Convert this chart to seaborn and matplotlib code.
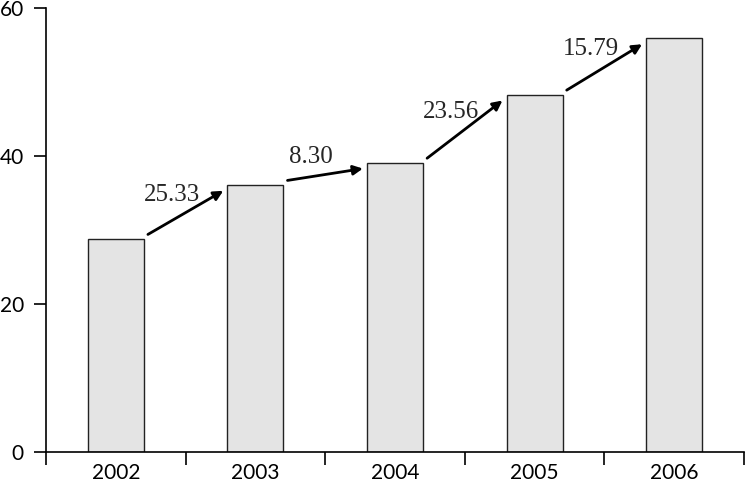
import numpy as np
import pandas as pd
import matplotlib
matplotlib.use('Agg')
import matplotlib.pyplot as plt
import seaborn as sns
from matplotlib.ticker import FixedLocator

# values
years = ['2002', '2003', '2004', '2005', '2006']
values = [28.8, 36.1, 39.1, 48.3, 55.9]
growth_labels = ['25.33', '8.30', '23.56', '15.79']

df = pd.DataFrame({'year': years, 'value': values})

sns.set_style('white')
plt.rcParams['font.family'] = ['Lato', 'DejaVu Sans']

fig = plt.figure(figsize=(7.45, 4.84), dpi=100)
ax = fig.add_axes([46 / 745, 32 / 484, 698 / 745, 444 / 484])

sns.barplot(data=df, x='year', y='value', color='#e4e4e4', saturation=1,
            edgecolor='#222222', linewidth=1.0, width=0.4, ax=ax)

ax.set_xlim(-0.5, 4.5)
ax.set_ylim(0, 60)
ax.set_yticks([0, 20, 40, 60])
ax.set_xlabel('')
ax.set_ylabel('')

for s in ['top', 'right']:
    ax.spines[s].set_visible(False)
for s in ['left', 'bottom']:
    ax.spines[s].set_linewidth(1.2)
    ax.spines[s].set_color('black')

# category boundaries get tick marks, labels sit at the centres
ax.xaxis.set_minor_locator(FixedLocator(np.arange(-0.5, 5, 1.0)))
ax.tick_params(axis='x', which='major', length=0, pad=8, labelsize=15,
               labelcolor='black')
ax.tick_params(axis='x', which='minor', direction='out', length=9,
               width=1.2, color='black', bottom=True)
ax.tick_params(axis='y', which='major', direction='out', length=9,
               width=1.2, color='black', left=True, pad=7, labelsize=15,
               labelcolor='black')

# growth arrows between consecutive bars
for i, lab in enumerate(growth_labels):
    x0, y0 = i + 0.23, values[i] + 0.6
    x1, y1 = i + 0.77, values[i + 1] - 0.8
    ax.annotate('', xy=(x1, y1), xytext=(x0, y0),
                arrowprops=dict(arrowstyle='-|>', color='black', lw=2,
                                mutation_scale=14, shrinkA=0, shrinkB=0))
    ax.text((x0 + x1) / 2 - 0.1, (y0 + y1) / 2 + 2.4, lab,
            ha='center', va='center', fontsize=18,
            family=['Liberation Serif', 'DejaVu Serif'])

fig.savefig('out.png', dpi=100)
